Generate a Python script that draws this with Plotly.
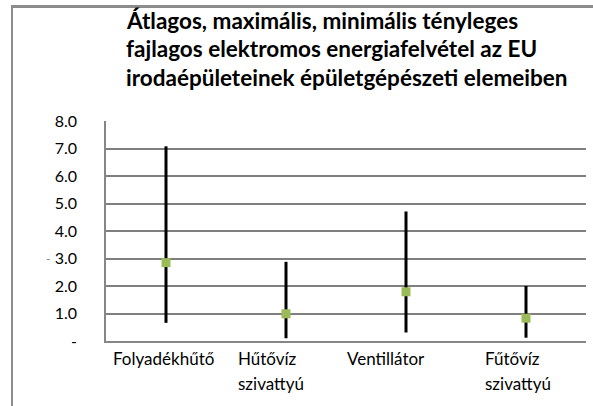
import plotly.graph_objects as go

categories = ["Folyadékhűtő", "Hűtővíz szivattyú", "Ventillátor", "Fűtővíz szivattyú"]
label_lines = [["Folyadékhűtő"], ["Hűtővíz", "szivattyú"], ["Ventillátor"], ["Fűtővíz", "szivattyú"]]
avg_values = [2.85, 0.99, 1.79, 0.83]
max_values = [7.08, 2.88, 4.71, 2.00]
min_values = [0.66, 0.10, 0.31, 0.12]
y_tickvals = [0, 1, 2, 3, 4, 5, 6, 7, 8]
y_ticktext = ["-", "1.0", "2.0", "3.0", "4.0", "5.0", "6.0", "7.0", "8.0"]
title_lines = [
    "Átlagos, maximális, minimális tényleges",
    "fajlagos elektromos energiafelvétel az EU",
    "irodaépületeinek épületgépészeti elemeiben",
]

W, H = 593, 406
L, T = 106, 121
R = W - 586
B = H - 341
PW, PH = W - L - R, H - T - B

def px(x):  # page pixel -> paper x
    return (x - L) / PW

def py(y):  # page pixel -> paper y
    return (H - B - y) / PH

FONT = "Lato, Carlito, Calibri, sans-serif"

fig = go.Figure()
fig.add_trace(go.Scatter(
    x=categories,
    y=avg_values,
    mode="markers",
    marker=dict(symbol="square", size=9, color="#9BBB59", line=dict(width=0)),
    error_y=dict(
        type="data",
        symmetric=False,
        array=[mx - a for mx, a in zip(max_values, avg_values)],
        arrayminus=[a - mn for a, mn in zip(avg_values, min_values)],
        color="black",
        thickness=3,
        width=0,
    ),
    showlegend=False,
))

annotations = []
for line, yc in zip(title_lines, [21, 49, 77]):
    annotations.append(dict(
        text="<b>%s</b>" % line, xref="paper", yref="paper",
        x=px(124), y=py(yc), xanchor="left", yanchor="middle",
        showarrow=False, font=dict(family=FONT, size=22.5, color="#000000"),
    ))

xshifts = [-3, -50, -20, -43]
anchors = ["center", "left", "center", "left"]
for cat, lines, xs, anc in zip(categories, label_lines, xshifts, anchors):
    for j, ln in enumerate(lines):
        annotations.append(dict(
            text=ln, xref="x", yref="paper", x=cat, y=0,
            xanchor=anc, yanchor="middle", xshift=xs, yshift=-(17 + 25 * j),
            showarrow=False, font=dict(family=FONT, size=17, color="#000000"),
        ))

annotations.append(dict(
    text="-", xref="paper", yref="paper", x=px(48), y=py(258),
    xanchor="center", yanchor="middle", showarrow=False,
    font=dict(family=FONT, size=12, color="#808080"),
))

# outer chart-area border (left edge as a shape; top edge also via CSS overlay below)
shapes = [
    dict(type="rect", xref="paper", yref="paper",
         x0=px(11), x1=px(593), y0=py(8), y1=py(5.5),
         line=dict(width=0), fillcolor="#8C8C8C", layer="above"),
    dict(type="rect", xref="paper", yref="paper",
         x0=px(11), x1=px(13), y0=py(406), y1=py(5.5),
         line=dict(width=0), fillcolor="#8C8C8C", layer="above"),
]

fig.update_layout(
    width=W, height=H,
    margin=dict(l=L, r=R, t=T, b=B, autoexpand=False),
    paper_bgcolor="white", plot_bgcolor="white",
    font=dict(family=FONT, size=14, color="#000000"),
    annotations=annotations,
    shapes=shapes,
    xaxis=dict(
        type="category", range=[-0.5, 3.5], showticklabels=False,
        showgrid=False, zeroline=False, showline=True, linecolor="#868686", linewidth=1.5,
        ticks="",
    ),
    yaxis=dict(
        range=[0, 8], tickmode="array", tickvals=y_tickvals, ticktext=y_ticktext,
        showgrid=True, gridcolor="#7F7F7F", gridwidth=1.5, zeroline=False,
        showline=True, linecolor="#868686", linewidth=1.5,
        ticks="outside", ticklen=24, tickcolor="rgba(0,0,0,0)",
        tickfont=dict(family=FONT, size=16, color="#000000"),
    ),
)

post = (
    "document.body.style.margin='0';"
    "document.body.style.overflow='hidden';"
    "var b=document.createElement('div');"
    "b.style.cssText='position:fixed;left:11px;top:5px;width:700px;height:600px;"
    "border-top:2px solid #8C8C8C;border-left:2px solid #8C8C8C;pointer-events:none;z-index:10;';"
    "document.body.appendChild(b);"
)

fig.write_html(
    "out.html",
    config={"displayModeBar": False},
    post_script=post,
)
